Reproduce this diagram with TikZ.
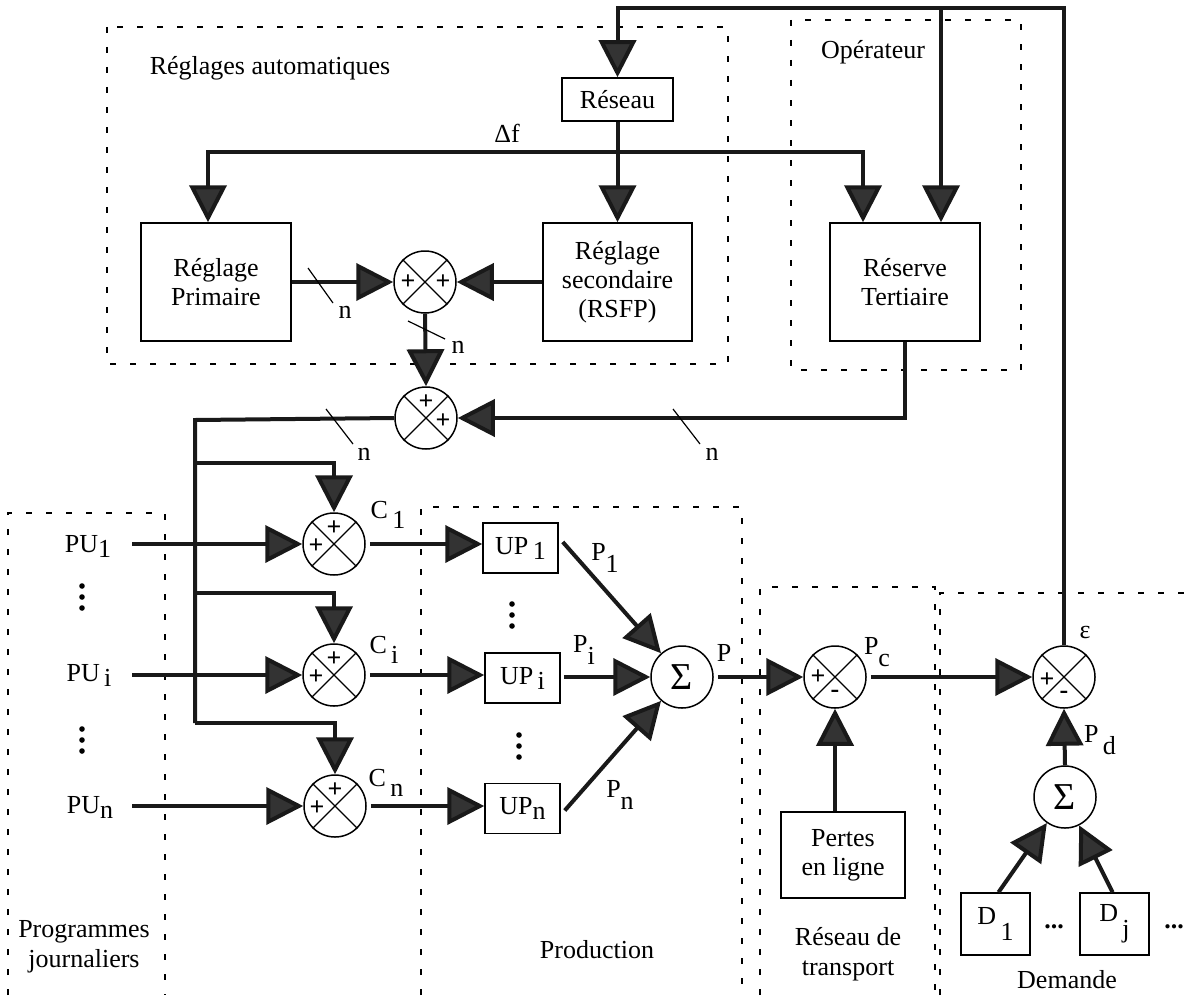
\documentclass[tikz,border=0pt]{standalone}
\usepackage{fontspec}
\setmainfont{Liberation Serif}
\usetikzlibrary{arrows.meta,calc}
\newcommand{\lo}[2][2.5]{\raisebox{-#1pt}{#2}}
\tikzset{
  ln/.style={line width=2pt, draw=black!90},
  arr/.style={ln, -{Triangle[length=18.5pt,width=18.5pt,fill=black!80]}},
  dbl/.style={ln, {Triangle[length=18.5pt,width=18.5pt,fill=black!80]}-{Triangle[length=18.5pt,width=18.5pt,fill=black!80]}},
  blk/.style={draw, line width=0.75pt, inner sep=0pt, align=center, font=\fontsize{13}{14.5}\selectfont},
  sumn/.style={circle, draw, line width=0.75pt, minimum size=31pt, inner sep=0pt},
  sgn/.style={font=\fontsize{13}{13}\selectfont\bfseries, inner sep=0pt},
  lbl/.style={font=\fontsize{13}{15}\selectfont, inner sep=0pt, align=center},
  zone/.style={dash pattern=on 3pt off 7pt, line width=0.8pt},
  tk/.style={line width=0.6pt},
}
\newcommand{\sumx}[3]{\node[sumn] (#1) at (#2,#3) {};
  \draw[line width=0.6pt] (#1.45)--(#1.225) (#1.135)--(#1.315);}
\newcommand{\vdt}[2]{\fill (#1,#2-11) circle (1.4pt) (#1,#2) circle (1.4pt) (#1,#2+11) circle (1.4pt);}
\begin{document}
\begin{tikzpicture}[x=0.5pt,y=-0.5pt]
\path[fill=white,use as bounding box] (0,0) rectangle (1186,995);

% dashed zones
\draw[zone] (107,27) rectangle (728,364);
\draw[zone] (791,20) rectangle (1021,370);
\draw[zone] (8,995) -- (8,513) -- (165,513) -- (165,995);
\draw[zone] (421,995) -- (421,507) -- (742,507) -- (742,995);
\draw[zone] (760,995) -- (760,587) -- (935,587) -- (935,995);
\draw[zone] (940,995) -- (940,593) -- (1186,593);

% zone titles
\node[lbl] (tAuto) at (270,68) {Réglages automatiques};
\node[lbl] (tOp) at (873,52) {Opérateur};
\node[lbl] (tProg) at (84,947) {Programmes\\journaliers};
\node[lbl] (tProd) at (597,950) {Production};
\node[lbl] (tRes) at (848,954) {Réseau de\\transport};
\node[lbl] (tDem) at (1067,980) {Demande};

% blocks
\node[blk, minimum width=55.5pt, minimum height=21.5pt] (reseau) at (617.5,99.5) {Réseau};
\node[blk, minimum width=75pt, minimum height=59pt] (prim) at (216,282) {Réglage\\Primaire};
\node[blk, minimum width=74.5pt, minimum height=59pt] (sec) at (617.5,282) {Réglage\\secondaire\\(RSFP)};
\node[blk, minimum width=75pt, minimum height=59pt] (res) at (905,282) {Réserve\\Tertiaire};
\node[blk, minimum width=37.5pt, minimum height=25pt] (up1) at (520.5,548) {UP\lo{\,1}};
\node[blk, minimum width=37.5pt, minimum height=25pt] (upi) at (522.5,678) {UP\lo{\,i}};
\node[blk, minimum width=37.5pt, minimum height=25pt] (upn) at (522.5,808.5) {UP\lo{n}};
\node[blk, minimum width=62pt, minimum height=43pt] (pertes) at (843,855) {Pertes\\en ligne};
\node[blk, minimum width=34.5pt, minimum height=31pt] (d1) at (995.5,924) {D\lo[8]{\,1}};
\node[blk, minimum width=34.5pt, minimum height=31pt] (dj) at (1114.5,924) {D\lo[8]{\,j}};
\node[lbl] (dots1) at (1054,927) {\textbf{...}};
\node[lbl] (dots2) at (1174,927) {\textbf{...}};

% summing junctions
\sumx{s1}{425}{282}
\node[sgn] at ($(s1)+(-17,0)$) {+};
\node[sgn] at ($(s1)+(18,0)$) {+};
\sumx{s2}{426}{418}
\node[sgn] at ($(s2)+(0,-16)$) {+};
\node[sgn] at ($(s2)+(17,3)$) {+};
\sumx{c1}{334}{544}
\node[sgn] at ($(c1)+(-18,2)$) {+};
\node[sgn] at ($(c1)+(0,-16)$) {+};
\sumx{ci}{334}{675}
\node[sgn] at ($(ci)+(-18,2)$) {+};
\node[sgn] at ($(ci)+(0,-16)$) {+};
\sumx{cn}{335}{806}
\node[sgn] at ($(cn)+(-18,2)$) {+};
\node[sgn] at ($(cn)+(0,-16)$) {+};
\sumx{pc}{835}{677}
\node[sgn] at ($(pc)+(-17,0)$) {+};
\node[sgn] at ($(pc)+(0,17)$) {-};
\sumx{eps}{1064}{677}
\node[sgn] at ($(eps)+(-17,3)$) {+};
\node[sgn] at ($(eps)+(0,18)$) {-};
\node[sumn, font=\fontsize{19}{19}\selectfont] (sig) at (682,677) {Σ};
\node[sumn, font=\fontsize{19}{19}\selectfont] (sd) at (1065,797) {Σ};

% left labels
\node[lbl] (pu1) at (88,546) {PU\lo{1}};
\node[lbl] (pui) at (89,675) {PU\lo{\,i}};
\node[lbl] (pun) at (90,807) {PU\lo{n}};
\vdt{82}{597}
\vdt{82}{740}
\vdt{512}{615}
\vdt{519}{746}

% signal labels
\node[lbl] (lc1) at (388,515) {C\lo[5]{\,1}};
\node[lbl] (lci) at (384,650) {C\lo[5]{\,i}};
\node[lbl] (lcn) at (386,783) {C\lo[5]{\,n}};
\node[lbl] (lp1) at (605,558) {P\lo[6]{1}};
\node[lbl] (lpi) at (584,650) {P\lo[6]{i}};
\node[lbl] (lpn) at (620,795) {P\lo[6]{n}};
\node[lbl] (lp) at (724,653) {P};
\node[lbl] (lpc) at (877,652) {P\lo[6]{c}};
\node[lbl] (leps) at (1085,632) {ε};
\node[lbl] (lpd) at (1100,740) {P\lo[6]{\,d}};
\node[lbl] (ldf) at (507,133) {Δf};
\node[lbl] (n1) at (345,312) {n};
\node[lbl] (n2) at (458,347) {n};
\node[lbl] (n3) at (364,454) {n};
\node[lbl] (n4) at (712,454) {n};

% coordinates
\coordinate (topR) at (1064,8);
\coordinate (brT) at (941,8);
\coordinate (dfL) at (208,152);
\coordinate (dfR) at (863,152);
\coordinate (busT) at (195,420);
\coordinate (b1) at (195,463);
\coordinate (b2) at (195,593);
\coordinate (b3) at (195,723);
\coordinate (pux) at (132,0);

% connectors
\draw[arr] (eps.north) -- (topR) -| (reseau.north);
\draw[arr] (brT) -- (brT |- res.north);
\draw[dbl] (dfL |- prim.north) -- (dfL) -- (dfR) -- (dfR |- res.north);
\draw[arr] (reseau.south) -- (sec.north);
\draw[arr] (prim.east) -- (s1.west);
\draw[arr] (sec.west) -- (s1.east);
\draw[arr] (s1.south) -- (s2.north);
\draw[arr] (res.south) |- (s2.east);
\draw[ln] (s2.west) -- (busT) -- (b3);
\draw[arr] (b1) -| (c1.north);
\draw[arr] (b2) -| (ci.north);
\draw[arr] (b3) -| (cn.north);
\draw[arr] (c1.west -| pux) -- (c1.west);
\draw[arr] (ci.west -| pux) -- (ci.west);
\draw[arr] (cn.west -| pux) -- (cn.west);
\draw[arr] ($(c1.east)+(4,0)$) -- (c1.east -| up1.west);
\draw[arr] ($(ci.east)+(4,0)$) -- (ci.east -| upi.west);
\draw[arr] ($(cn.east)+(4,0)$) -- (cn.east -| upn.west);
\draw[arr] ($(up1.east)+(4,-6)$) -- (sig);
\draw[arr] ($(sig.west -| upi.east)+(3,0)$) -- (sig.west);
\draw[arr] ($(upn.east)+(4,2)$) -- (sig);
\draw[arr] ($(sig.east)+(4,0)$) -- (pc.west);
\draw[arr] ($(pc.east)+(4,0)$) -- (eps.west);
\draw[arr] (pc.south |- pertes.north) -- (pc.south);
\draw[arr] (sd.north) -- (eps.south);
\draw[arr] ($(d1.north)+(3,0)$) -- (sd);
\draw[arr] ($(dj.north)+(-2,0)$) -- (sd);

% bus ticks
\draw[tk] (308,268) -- (333,303);
\draw[tk] (408,321) -- (445,339);
\draw[tk] (326,409) -- (353,444);
\draw[tk] (673,409) -- (700,444);
\end{tikzpicture}
\end{document}
